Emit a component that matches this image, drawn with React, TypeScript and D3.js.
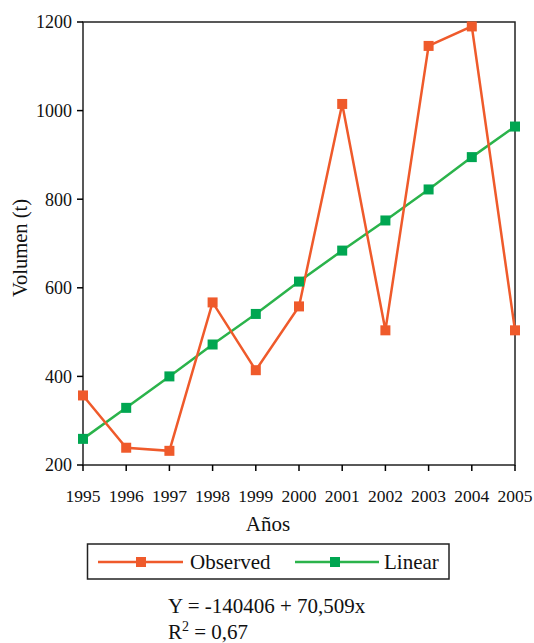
import React from "react";
import * as d3 from "d3";

const years = [1995, 1996, 1997, 1998, 1999, 2000, 2001, 2002, 2003, 2004, 2005];
const observed = [357, 239, 232, 567, 414, 558, 1015, 504, 1146, 1190, 504];
const linear = [259, 329, 400, 472, 541, 614, 684, 752, 822, 895, 964];
const yTicks = [200, 400, 600, 800, 1000, 1200];
const seriesNames = ["Observed", "Linear"];
const equationText = "Y = -140406 + 70,509x";
const r2Value = "0,67";

const ORANGE = "#ef5a2b";
const GREEN_LINE = "#2bb34b";
const GREEN_MARK = "#00a651";
const FONT = "'Liberation Serif', 'Times New Roman', serif";

export default function App() {
  const W = 534, H = 643;
  const left = 83, right = 515, top = 22, bottom = 465;
  const x = d3.scaleLinear().domain([1995, 2005]).range([left, right]);
  const y = d3.scaleLinear().domain([200, 1200]).range([bottom, top]);
  const line = d3.line<number>().x((_, i) => x(years[i])).y((d) => y(d));
  const ms = 10;

  return (
    <svg width={W} height={H} style={{ position: "absolute", left: 0, top: 0, background: "#fff" }} fontFamily={FONT}>
      {/* frame */}
      <rect x={left} y={top} width={right - left} height={bottom - top} fill="none" stroke="#222" strokeWidth={1.5} />
      {/* y ticks */}
      {yTicks.map((t) => (
        <g key={t}>
          <line x1={left - 6} x2={left} y1={y(t)} y2={y(t)} stroke="#000" strokeWidth={1.5} />
          <text x={left - 11} y={y(t)} dy="0.35em" textAnchor="end" fontSize={18} fill="#111">{t}</text>
        </g>
      ))}
      {/* x ticks */}
      {years.map((yr) => (
        <g key={yr}>
          <line x1={x(yr)} x2={x(yr)} y1={bottom} y2={bottom + 6} stroke="#000" strokeWidth={1.5} />
          <text x={x(yr)} y={502} textAnchor="middle" fontSize={17.5} fill="#111">{yr}</text>
        </g>
      ))}
      <text x={268} y={531} textAnchor="middle" fontSize={21} fill="#111">Años</text>
      <text transform={`translate(27,248) rotate(-90)`} textAnchor="middle" fontSize={20.5} fill="#111">Volumen (t)</text>

      {/* series */}
      <path d={line(linear) || ""} fill="none" stroke={GREEN_LINE} strokeWidth={2.5} />
      <path d={line(observed) || ""} fill="none" stroke={ORANGE} strokeWidth={2.5} />
      {linear.map((v, i) => (
        <rect key={"l" + i} x={x(years[i]) - ms / 2} y={y(v) - ms / 2} width={ms} height={ms} fill={GREEN_MARK} />
      ))}
      {observed.map((v, i) => (
        <rect key={"o" + i} x={x(years[i]) - ms / 2} y={y(v) - ms / 2} width={ms} height={ms} fill={ORANGE} />
      ))}

      {/* legend */}
      <rect x={87.5} y={544} width={361.5} height={35} fill="none" stroke="#222" strokeWidth={1.5} />
      <line x1={98} x2={183} y1={562} y2={562} stroke={ORANGE} strokeWidth={2.5} />
      <rect x={141 - ms / 2} y={562 - ms / 2} width={ms} height={ms} fill={ORANGE} />
      <text x={190} y={569} fontSize={21} fill="#111">{seriesNames[0]}</text>
      <line x1={295} x2={379} y1={562} y2={562} stroke={GREEN_LINE} strokeWidth={2.5} />
      <rect x={335 - ms / 2} y={562 - ms / 2} width={ms} height={ms} fill={GREEN_MARK} />
      <text x={384} y={569} fontSize={21} fill="#111">{seriesNames[1]}</text>

      {/* equation */}
      <text x={168} y={613} fontSize={21} fill="#111">{equationText}</text>
      <text x={168} y={639} fontSize={21} fill="#111">
        R<tspan dy={-8} fontSize={14}>2</tspan><tspan dy={8}> = {r2Value}</tspan>
      </text>
    </svg>
  );
}
